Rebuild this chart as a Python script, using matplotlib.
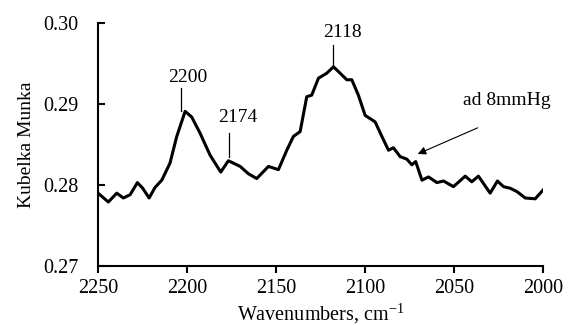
import matplotlib
matplotlib.use('Agg')
import matplotlib.pyplot as plt

# spectrum
wavenumber = [2250, 2244.2, 2239.5, 2235.8, 2232, 2227.9, 2224.9, 2221.3, 2218, 2214.2,
              2209.6, 2205.8, 2201.1, 2197.4, 2192.7, 2187.1, 2181.1, 2176.8, 2170.2,
              2165.6, 2160.9, 2154.3, 2148.7, 2144, 2140.3, 2136.5, 2132.8, 2130, 2126.2,
              2121.6, 2117.8, 2114, 2110.3, 2107.5, 2103.8, 2100, 2094.4, 2090.6, 2086.9,
              2084.1, 2080.3, 2076.6, 2073.8, 2071.6, 2068.1, 2064.4, 2059.7, 2056, 2050.4,
              2043.8, 2040.1, 2036.4, 2029.8, 2025.7, 2022.3, 2018.5, 2014.8, 2010.1,
              2004.5, 2000]
km = [0.2790, 0.2779, 0.2790, 0.2784, 0.2788, 0.2803, 0.2796, 0.2784, 0.2797, 0.2806,
      0.2827, 0.2860, 0.2891, 0.2884, 0.2864, 0.2837, 0.2816, 0.2830, 0.2823,
      0.2814, 0.2808, 0.2823, 0.2819, 0.2843, 0.2860, 0.2866, 0.2909, 0.2911, 0.2932,
      0.2938, 0.2946, 0.2938, 0.2930, 0.2930, 0.2911, 0.2886, 0.2878, 0.2860, 0.2843,
      0.2846, 0.2835, 0.2832, 0.2825, 0.2829, 0.2806, 0.2810, 0.2803, 0.2805, 0.2798,
      0.2811, 0.2804, 0.2811, 0.2790, 0.2805, 0.2798, 0.2796, 0.2792, 0.2784,
      0.2783, 0.2794]

# peak labels: (text, line x, line bottom, line top, label x, label y)
peaks = [('2200', 2203.4, 0.2891, 0.2920, 2199.4, 0.2933),
         ('2174', 2176.4, 0.2835, 0.2864, 2171.3, 0.2883),
         ('2118', 2118.0, 0.2948, 0.2973, 2112.9, 0.2988)]

plt.rcParams['font.family'] = 'Liberation Serif'
plt.rcParams['mathtext.fontset'] = 'custom'
plt.rcParams['mathtext.rm'] = 'Liberation Serif'

fig = plt.figure(figsize=(5.7, 3.25), dpi=100)
ax = fig.add_axes([0.172, 0.1815, 0.781, 0.7475])

ax.plot(wavenumber, km, color='black', lw=2.2, solid_joinstyle='round')

for txt, lx, y0, y1, tx, ty in peaks:
    ax.plot([lx, lx], [y0, y1], color='black', lw=0.9)
    ax.text(tx, ty, txt, ha='center', va='center', fontsize=14)

ax.annotate('', xy=(2071.9, 0.2837), xytext=(2035.4, 0.2872),
            arrowprops=dict(arrowstyle='-|>', color='black', lw=0.8,
                            mutation_scale=12))
ax.text(2020.2, 0.2905, 'ad 8mmHg', ha='center', va='center', fontsize=14)

ax.set_xlim(2250, 2000)
ax.set_ylim(0.27, 0.30)
ax.set_xticks([2250, 2200, 2150, 2100, 2050, 2000])
ax.set_yticks([0.27, 0.28, 0.29, 0.30])
ax.set_yticklabels(['0.27', '0.28', '0.29', '0.30'])

for side in ['top', 'right']:
    ax.spines[side].set_visible(False)
for side in ['left', 'bottom']:
    ax.spines[side].set_linewidth(1.5)

ax.tick_params(axis='x', direction='out', length=5, width=1.5, labelsize=14.5, pad=4)
ax.tick_params(axis='y', direction='in', length=5, width=1.5, labelsize=14.5, pad=14)

ax.set_xlabel(r'Wavenumbers, cm$^{\mathrm{-1}}$', fontsize=14.5, labelpad=3)
ax.set_ylabel('Kubelka Munka', fontsize=14, labelpad=6)

fig.savefig('out.png', dpi=100)
